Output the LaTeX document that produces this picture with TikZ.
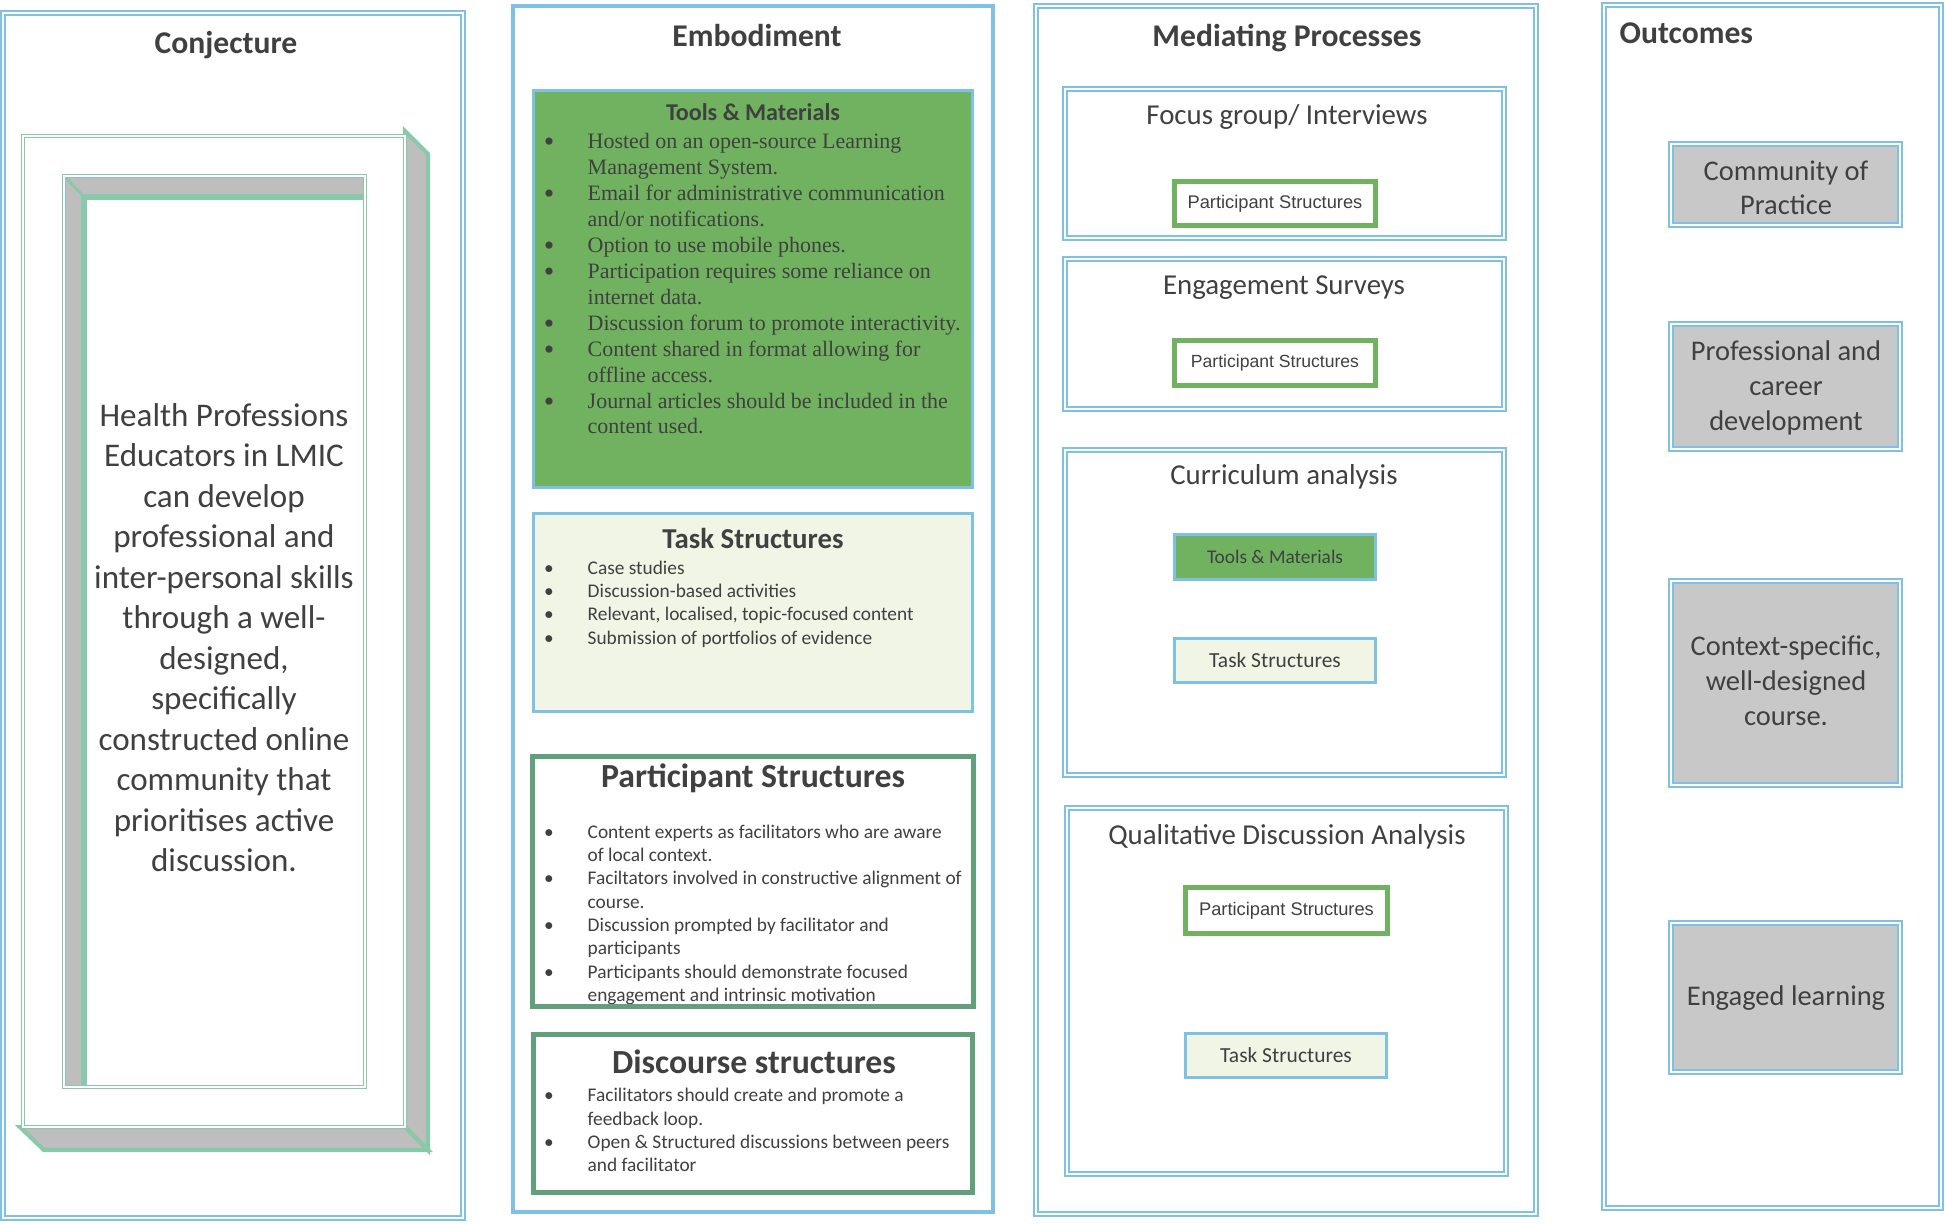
\documentclass[tikz,border=0pt]{standalone}
\usepackage{fontspec}
\setmainfont{Carlito}
\newfontfamily\timesf{Liberation Serif}
\newfontfamily\arialf{Liberation Sans}
\usetikzlibrary{fit}
\definecolor{cblue}{RGB}{127,193,227}
\definecolor{fgreen}{RGB}{137,200,170}
\definecolor{fgray}{RGB}{190,190,190}
\definecolor{tgreen}{RGB}{112,178,95}
\definecolor{pgreen}{RGB}{98,160,124}
\definecolor{tfill}{RGB}{240,245,230}
\definecolor{ogray}{RGB}{200,200,200}
\definecolor{txt}{RGB}{64,64,64}
\begin{document}
\begin{tikzpicture}[x=0.01cm, y=-0.01cm,
  every node/.style={text=txt},
  colbox/.style={draw=cblue, line width=0.6pt, double=white, double distance=0.35pt, inner sep=0pt},
  sblue/.style={draw=cblue, line width=0.9pt, inner sep=0pt},
  gframe/.style={draw=fgreen, line width=0.35pt, double=white, double distance=0.4pt, inner sep=0pt},
  ttl/.style={font=\bfseries\fontsize{9}{11}\selectfont, anchor=base, inner sep=0pt},
  conjt/.style={font=\fontsize{9.4}{11.5}\selectfont, anchor=base, inner sep=0pt},
  hd/.style={font=\bfseries\fontsize{#1}{#1}\selectfont, anchor=base, inner sep=0pt},
  tml/.style={font=\timesf\fontsize{6.25}{7.4}\selectfont, anchor=base west, inner sep=0pt},
  tmb/.style={font=\timesf\fontsize{8.5}{8.5}\selectfont, anchor=base, inner sep=0pt, text height=1.2mm, text depth=0pt, yshift=-0.3mm},
  bl/.style={font=\fontsize{5.5}{6.6}\selectfont, anchor=base west, inner sep=0pt},
  bb/.style={font=\fontsize{5.5}{6.6}\selectfont, anchor=base, inner sep=0pt},
  sub/.style={font=\fontsize{8.2}{9.8}\selectfont, anchor=base, inner sep=0pt},
  ot/.style={font=\fontsize{8.1}{9.9}\selectfont, anchor=base, inner sep=0pt},
  psmall/.style={draw=tgreen, line width=1.4pt, fill=white, inner sep=0pt, font=\arialf\fontsize{5.2}{6}\selectfont},
  bsmall/.style={draw=cblue, line width=0.85pt, inner sep=0pt},
  obox/.style={colbox, fill=ogray}
]
\useasboundingbox (0,0) rectangle (1945,1223);
\fill[white] (0,0) rectangle (1945,1223);

% ===== Columns =====
\node[colbox, fit={(3,13) (463,1218)}] (conj) {};
\node[sblue, line width=1pt, fit={(513,6) (993,1212)}] (emb) {};
\node[colbox, fit={(1036,6) (1536,1214)}] (med) {};
\node[colbox, fit={(1604,5) (1941,1208)}] (outc) {};

\node[ttl] (conjT) at (226,53) {Conjecture};
\node[ttl] (embT) at (757,46) {Embodiment};
\node[ttl] (medT) at (1287,46) {Mediating Processes};
\node[ttl, anchor=base west] (outT) at (1619,43) {Outcomes};

% ===== Conjecture 3D frame =====
\filldraw[fill=fgray, draw=fgreen, line width=1.2pt, line join=miter] (405,131) -- (428,154) -- (428,1150) -- (405,1127) -- cycle;
\filldraw[fill=fgray, draw=fgreen, line width=1.2pt, line join=miter] (20,1127) -- (405,1127) -- (428,1150) -- (44,1150) -- cycle;
\node[gframe, fill=white, fit={(23,136) (405,1127)}] (front) {};
\fill[fgray] (66,178) -- (365,178) -- (365,200) -- (87,200) -- (87,1087) -- (66,1087) -- cycle;
\draw[fgreen, line width=1.7pt] (84,1087) -- (84,197) -- (365,197);
\draw[fgreen, line width=0.8pt] (66,178) -- (87,200);
\node[gframe, fit={(64,176) (365,1087)}] (innerf) {};

\foreach \t [count=\i from 0] in {{Health Professions},{Educators in LMIC},{can develop},{professional and},{inter-personal skills},{through a well-},{designed,},{specifically},{constructed online},{community that},{prioritises active},{discussion.}}
  \node[conjt] (cj\i) at (224,{426+\i*40.5}) {\t};

% ===== Embodiment =====
\node[sblue, fill=tgreen, fit={(533.5,90.5) (972.5,487.5)}] (tools) {};
\node[hd=6.85] (toolsT) at (753,120.7) {Tools \& Materials};
\foreach \t [count=\i from 0] in {{Hosted on an open-source Learning},{Management System.},{Email for administrative communication},{and/or notifications.},{Option to use mobile phones.},{Participation requires some reliance on},{internet data.},{Discussion forum to promote interactivity.},{Content shared in format allowing for},{offline access.},{Journal articles should be included in the},{content used.}}
  \node[tml] (tml\i) at (587,{148.3+\i*25.97}) {\t};
\foreach \i in {0,2,4,5,7,8,10}
  \node[tmb] (tmb\i) at (549,{148.3+\i*25.97}) {\textbullet};

\node[sblue, fill=tfill, fit={(533.5,513.5) (972.5,711.5)}] (task) {};
\node[hd=8.2] (taskT) at (753,548.3) {Task Structures};
\foreach \t [count=\i from 0] in {{Case studies},{Discussion-based activities},{Relevant, localised, topic-focused content},{Submission of portfolios of evidence}}{
  \node[bl] (tsl\i) at (587,{574+\i*23.33}) {\t};
  \node[bb] (tsb\i) at (549,{574+\i*23.33}) {\textbullet};
}

\node[inner sep=0pt, fill=white, fit={(533.5,757.5) (972.5,1005.5)}] (part) {};
\node[hd=9.6] (partT) at (753,787.7) {Participant Structures};
\foreach \t [count=\i from 0] in {{Content experts as facilitators who are aware},{of local context.},{Faciltators involved in constructive alignment of},{course.},{Discussion prompted by facilitator and},{participants},{Participants should demonstrate focused},{engagement and intrinsic motivation}}
  \node[bl] (psl\i) at (587,{838.3+\i*23.33}) {\t};
\foreach \i in {0,2,4,6}
  \node[bb] (psb\i) at (549,{838.3+\i*23.33}) {\textbullet};
\draw[pgreen, line width=1.4pt] (part.north west) rectangle (part.south east);

\node[draw=pgreen, line width=1.4pt, inner sep=0pt, fit={(533.5,1034.5) (972.5,1192.5)}] (disc) {};
\node[hd=9.6] (discT) at (754,1073.3) {Discourse structures};
\foreach \t [count=\i from 0] in {{Facilitators should create and promote a},{feedback loop.},{Open \& Structured discussions between peers},{and facilitator}}
  \node[bl] (dsl\i) at (587,{1101.7+\i*23.33}) {\t};
\foreach \i in {0,2}
  \node[bb] (dsb\i) at (549,{1101.7+\i*23.33}) {\textbullet};

% ===== Mediating Processes =====
\node[colbox, fit={(1065,89) (1504,238)}] (focus) {};
\node[sub] (focusT) at (1287,124) {Focus group/ Interviews};
\node[psmall, minimum width=2.01cm, minimum height=0.44cm] (ps1) at (1275,203.5) {Participant Structures};

\node[colbox, fit={(1065,259) (1504,409)}] (surv) {};
\node[sub] (survT) at (1284,294.3) {Engagement Surveys};
\node[psmall, minimum width=2.01cm, minimum height=0.45cm, font=\arialf\fontsize{5}{6}\selectfont] (ps2) at (1275,363) {Participant Structures};

\node[colbox, fit={(1065,450) (1504,775)}] (curr) {};
\node[sub] (currT) at (1284,484.3) {Curriculum analysis};
\node[bsmall, fill=tgreen, minimum width=2.01cm, minimum height=0.45cm, font=\fontsize{5.5}{6.6}\selectfont] (tm) at (1275,557) {Tools \& Materials};
\node[bsmall, fill=tfill, minimum width=2.01cm, minimum height=0.44cm, font=\fontsize{6.1}{7.3}\selectfont] (ts1) at (1275,660.5) {Task Structures};

\node[colbox, fit={(1067,808) (1506,1174)}] (qual) {};
\node[sub] (qualT) at (1287,844) {Qualitative Discussion Analysis};
\node[psmall, minimum width=2.02cm, minimum height=0.46cm] (ps3) at (1286.5,910.5) {Participant Structures};
\node[bsmall, fill=tfill, minimum width=2.01cm, minimum height=0.44cm, font=\fontsize{6.1}{7.3}\selectfont] (ts2) at (1286,1055.5) {Task Structures};

% ===== Outcomes =====
\node[obox, fit={(1671,144) (1900,225)}] (comm) {};
\node[ot] (comm0) at (1786,180) {Community of};
\node[ot] (comm1) at (1786,214) {Practice};

\node[obox, fit={(1671,324) (1900,449)}] (prof) {};
\node[ot] (prof0) at (1786,360) {Professional and};
\node[ot] (prof1) at (1786,395) {career};
\node[ot] (prof2) at (1786,430) {development};

\node[obox, fit={(1671,581) (1900,785)}] (ctx) {};
\node[ot] (ctx0) at (1786,655) {Context-specific,};
\node[ot] (ctx1) at (1786,690) {well-designed};
\node[ot] (ctx2) at (1786,725) {course.};

\node[obox, fit={(1671,923) (1900,1072)}] (eng) {};
\node[ot] (eng0) at (1786,1005) {Engaged learning};
\end{tikzpicture}
\end{document}
